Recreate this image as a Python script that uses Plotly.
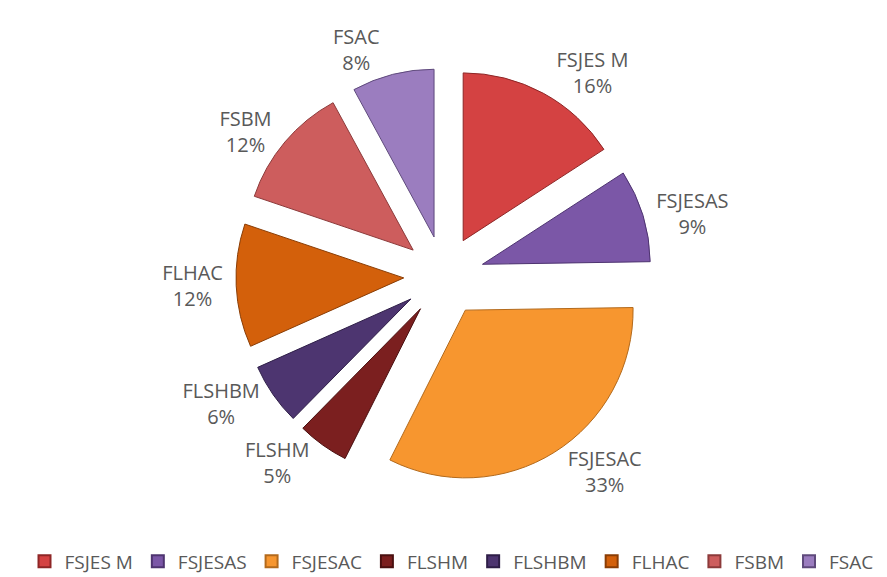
import plotly.graph_objects as go

labels = ["FSJES M", "FSJESAS", "FSJESAC", "FLSHM", "FLSHBM", "FLHAC", "FSBM", "FSAC"]
values = [16, 9, 33, 5, 6, 12, 12, 8]
colors = ["#D44242", "#7B57A7", "#F7962F", "#7B1F1F", "#4D3570", "#D3600B", "#CD5D5D", "#9B7DBF"]
edges = ["#8E2626", "#4E3470", "#B36A1C", "#4A1010", "#2E1E47", "#8A3D05", "#8C3A3A", "#5F4A7C"]

fig = go.Figure(go.Pie(
    labels=labels,
    values=values,
    sort=False,
    direction="clockwise",
    rotation=0,
    pull=[0.24] * len(values),
    marker=dict(colors=colors, line=dict(color=edges, width=1)),
    textposition="outside",
    texttemplate="%{label}<br>%{percent:.0%}",
    textfont=dict(family="Open Sans", size=20, color="#595959"),
    domain=dict(x=[0.257, 0.726], y=[0.175, 0.896]),
    automargin=False,
    hoverinfo="label+percent",
))

fig.update_layout(
    width=887, height=577,
    margin=dict(l=0, r=0, t=0, b=0, autoexpand=False),
    paper_bgcolor="white",
    showlegend=True,
    legend=dict(orientation="h", x=0.5, xanchor="center", y=0.008, yanchor="bottom",
                font=dict(family="Open Sans", size=19, color="#595959"),
                itemwidth=30, itemsizing="constant"),
)

fig.write_html("out.html")
